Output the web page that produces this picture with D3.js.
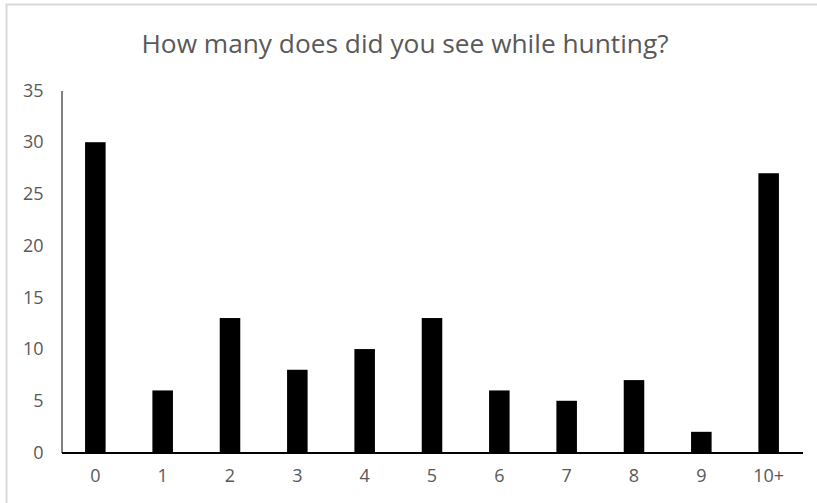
<!DOCTYPE html>
<html>
<head>
<meta charset="utf-8">
<script src="https://cdn.jsdelivr.net/npm/d3@7"></script>
<style>
  body { margin: 0; background: #fff; }
  svg text { font-family: "Open Sans", "Noto Sans", sans-serif; fill: #595959; }
</style>
</head>
<body>
<div id="chart"></div>
<script>
const categories = ["0", "1", "2", "3", "4", "5", "6", "7", "8", "9", "10+"];
const counts = [30, 6, 13, 8, 10, 13, 6, 5, 7, 2, 27];
const yTicks = [0, 5, 10, 15, 20, 25, 30, 35];
const title = "How many does did you see while hunting?";

const width = 817;
const height = 503;
const margin = { top: 90.5, right: 14.5, bottom: 50.5, left: 61.5 };

const svg = d3.select("#chart")
    .append("svg")
    .attr("width", width)
    .attr("height", height);

// chart frame
svg.append("rect")
    .attr("x", 6.5)
    .attr("y", 4.5)
    .attr("width", width + 10)
    .attr("height", height + 10)
    .attr("fill", "#fff")
    .attr("stroke", "#d9d9d9")
    .attr("stroke-width", 2);

const x = d3.scaleBand()
    .domain(categories)
    .range([margin.left, width - margin.right])
    .paddingInner(0.695)
    .paddingOuter(0.35);

const y = d3.scaleLinear()
    .domain([0, 35])
    .range([height - margin.bottom, margin.top]);

svg.append("text")
    .attr("x", 405)
    .attr("y", 53)
    .attr("text-anchor", "middle")
    .attr("textLength", 527)
    .attr("lengthAdjust", "spacingAndGlyphs")
    .style("font-size", "26px")
    .text(title);

// bars
svg.append("g")
    .selectAll("rect")
    .data(counts)
    .enter().append("rect")
    .attr("x", (d, i) => x(categories[i]))
    .attr("width", x.bandwidth())
    .attr("y", d => y(d))
    .attr("height", d => y(0) - y(d))
    .attr("fill", "#000");

// y axis
const yAxis = svg.append("g")
    .attr("transform", `translate(${margin.left},0)`)
    .call(d3.axisLeft(y).tickValues(yTicks).tickSize(0).tickPadding(18));
yAxis.select(".domain").attr("stroke", "#000");
yAxis.selectAll("text").style("font-size", "18px").attr("fill", "#595959");

// x axis
const xAxis = svg.append("g")
    .attr("transform", `translate(0,${y(0)})`)
    .call(d3.axisBottom(x).tickSize(0).tickPadding(17));
xAxis.select(".domain").attr("stroke", "#000").attr("stroke-width", 2);
xAxis.selectAll("text").style("font-size", "18px").attr("fill", "#595959");
</script>
</body>
</html>
